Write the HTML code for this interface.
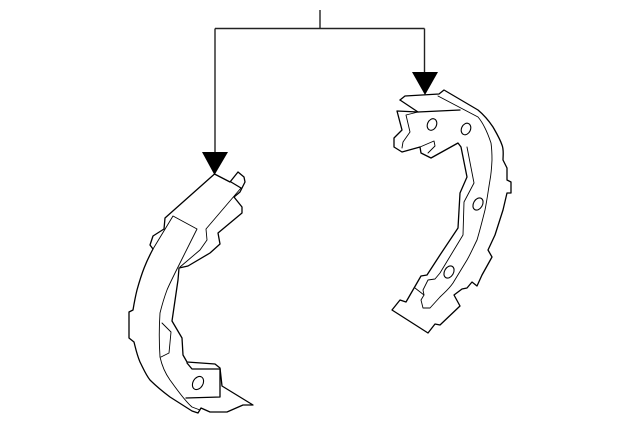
<!DOCTYPE html>
<html><head><meta charset="utf-8"><style>
html,body{margin:0;padding:0;background:#fff}
svg{display:block}
</style></head><body>
<svg width="640" height="423" viewBox="0 0 640 423" xmlns="http://www.w3.org/2000/svg">
<g fill="none" stroke="#222" stroke-width="1.4">
<path d="M320 10V28.5M215 28.5H424.5M215 28.5V155M424.5 28.5V75"/>
</g>
<polygon points="202,152 228,152 214.5,175" fill="#000"/>
<polygon points="412,72 438,72 425,95" fill="#000"/>
<g fill="none" stroke="#000" stroke-width="1.3" stroke-linejoin="round" stroke-linecap="round">
<!-- left shoe outline -->
<path d="M214.5 174L165 218L164 229L153 236L150 245L153 249C146 262 142 272 137 290C135 298 134 304 133 310L129 312V338L134 342C136 350 137 355 140 362C144 370 146 375 150 380C156 386 162 391 170 397L192 411L198 413L201 408L210 412H227L243 405L253 405L222 386L220 368L215 364L187 362L183 355L182 338L172 321L178 280L179 268L188 266L210 253L220 244L218 233L242 213V207L234 197L240 192L245 182L244 177L238 172L230 182Z"/>
<path d="M231 182L241 188"/>
<path d="M220 369H192L187 363"/>
<path d="M220 369V397L186 398"/>
</g>
<g fill="none" stroke="#000" stroke-width="0.9" stroke-linejoin="round" stroke-linecap="round">
<path d="M241 188L206 229L207 240L200 250L180 267"/>
<path d="M153 249L173 216L197 229L180 263C173 277 169 285 167 290C164 298 162 305 160 313C159 328 159 342 160 357C162 366 165 373 170 380C176 388 184 400 192 407L200 410"/>
<path d="M162 323L171 332L169 353L161 357"/>
<ellipse cx="198" cy="383" rx="5" ry="7" transform="rotate(30 198 383)" stroke-width="1.1"/>
</g>
<!-- right shoe -->
<g fill="none" stroke="#000" stroke-width="1.3" stroke-linejoin="round" stroke-linecap="round">
<path d="M400 100L405 96L439 94L444 90L478 110C484 115 489 121 493 127C497 134 500 139 502 145C504 150 503 155 503 160L507 168V180L511 182V193H507L503 210L495 235L488 250L492 257L482 275L477 286L472 282L467 288L462 289L454 295L460 306L440 325L435 324L428 333L392 310L400 300L406 302L421 276L427 275L440 255L458 228L460 193L467 177L461 147L458 143L431 158L421 153L420 147L402 152L394 147V138L402 130L397 111L418 112L460 110"/>
<path d="M400 100L418 112"/>
</g>
<g fill="none" stroke="#000" stroke-width="0.9" stroke-linejoin="round" stroke-linecap="round">
<path d="M438 96L478 117C484 124 488 134 491 143C492 150 492 155 492 160C491.500 170 491 175 490 180C488 192 487 200 485 210C482 222 480 230 477 240C473 248 471 253 467 260L453 283C449 289 445 292 440 297L430 308H423L421 300L424 295L423 290L428 280L435 279L440 273L463 235L464 202L474 183L467 147"/>
<path d="M418 112L406 115L410 132L403 142L402 148"/>
<path d="M420 147L434 141L435 146L428 153"/>
<path d="M415 288L424 295"/>
</g>
<g fill="none" stroke="#000" stroke-width="1.1">
<ellipse cx="432" cy="124.500" rx="4.500" ry="6" transform="rotate(25 432 124.500)"/>
<ellipse cx="466" cy="129" rx="4.500" ry="6" transform="rotate(25 466 129)"/>
<ellipse cx="478" cy="204" rx="4.500" ry="6.500" transform="rotate(30 478 204)"/>
<ellipse cx="449" cy="272" rx="4.500" ry="6.500" transform="rotate(30 449 272)"/>
</g>
</svg>
</body></html>
